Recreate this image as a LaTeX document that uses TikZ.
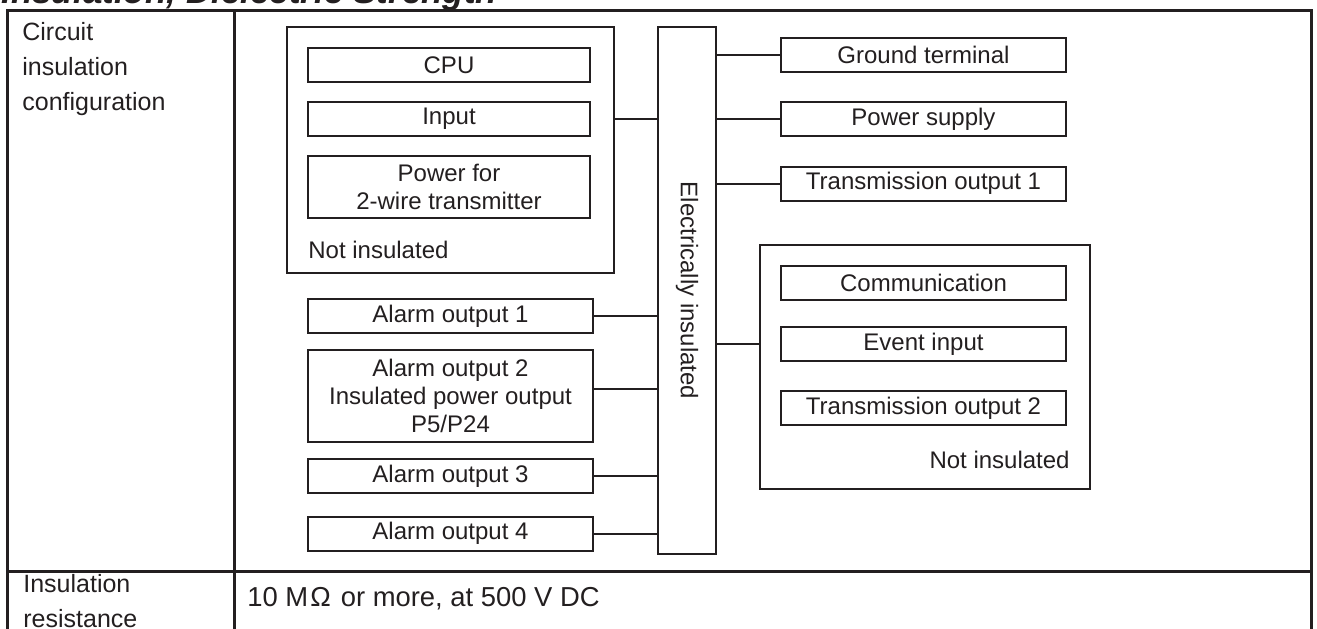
\documentclass[tikz,border=0pt]{standalone}
\usepackage{fontspec}
\setmainfont{Liberation Sans}
\usetikzlibrary{positioning}
\definecolor{ink}{HTML}{231F20}

\begin{document}
\begin{tikzpicture}[x=0.5pt,y=-0.5pt,
  every node/.style={text=ink},
  box/.style={draw=ink, line width=1pt, inner sep=0pt, align=center,
    minimum height=17pt, font=\fontsize{12}{14}\selectfont},
  grp/.style={draw=ink, line width=1pt, inner sep=0pt},
  note/.style={inner sep=0pt, font=\fontsize{12}{14}\selectfont},
  cell/.style={inner sep=0pt, align=left, font=\fontsize{12.5}{17.5}\selectfont},
  wire/.style={draw=ink, line width=1pt},
  rule/.style={draw=ink, line width=1.5pt}]

  % Page area
  \clip (0,0) rectangle (1317,628);

  % Heading, cut off at the top
  \node[anchor=base west, inner sep=0pt,
    font=\fontsize{17.5}{20}\selectfont\bfseries\itshape]
    (head) at (1,3) {Insulation, Dielectric Strength};

  % Table lines
  \draw[rule] (7,640) -- (7,10) -- (1311,10) -- (1311,640);
  \draw[rule] (234,10) -- (234,640);
  \draw[rule] (7,571) -- (1311,571);

  % Row labels
  \node[cell, anchor=north west] (cfg) at (22,22)
    {Circuit\\insulation\\configuration};
  \node[cell, anchor=north west] (res) at (23,574)
    {Insulation\\resistance};
  \node[cell, anchor=base west, font=\fontsize{13.7}{17.5}\selectfont] (resval) at (247,606)
    {10 M\kern1pt Ω\kern5pt or more, at 500 V DC};

  % Not insulated group, left
  \node[grp, minimum width=163.5pt, minimum height=123pt] (cpuside) at (450.5,150) {};
  \node[box, minimum width=141pt] (cpu) at (449,65) {CPU};
  \node[box, minimum width=141pt] (input) at (449,119) {Input};
  \node[box, minimum width=141pt, minimum height=31pt] (txpower) at (449,187)
    {Power for\\2-wire transmitter};
  \node[note, anchor=base west] (leftnote) at (308,258) {Not insulated};

  % Alarm outputs
  \node[box, minimum width=142.5pt] (alarm1) at (450.5,316) {Alarm output 1};
  \node[box, minimum width=142.5pt, minimum height=46pt] (alarm2) at (450.5,396)
    {Alarm output 2\\Insulated power output\\P5/P24};
  \node[box, minimum width=142.5pt] (alarm3) at (450.5,476) {Alarm output 3};
  \node[box, minimum width=142.5pt] (alarm4) at (450.5,533.5) {Alarm output 4};

  % Insulation bar
  \node[grp, minimum width=29pt, minimum height=263.5pt] (bar) at (687,290.5) {};
  \node[note, rotate=-90] (barlabel) at (bar.center) {Electrically insulated};

  % Right side
  \node[box, minimum width=142.5pt] (ground) at (923.5,54.5) {Ground terminal};
  \node[box, minimum width=142.5pt] (supply) at (923.5,119) {Power supply};
  \node[box, minimum width=142.5pt] (retrans1) at (923.5,183.5) {Transmission output 1};

  % Not insulated group, right
  \node[grp, minimum width=165pt, minimum height=122pt] (commside) at (925,367) {};
  \node[box, minimum width=142.5pt] (comm) at (923.5,282.5) {Communication};
  \node[box, minimum width=142.5pt] (event) at (923.5,344) {Event input};
  \node[box, minimum width=142.5pt] (retrans2) at (923.5,408) {Transmission output 2};
  \node[note, anchor=base east] (rightnote) at (1070,468) {Not insulated};

  % Connections to the bar
  \coordinate (a2tap) at ([yshift=3.5pt]alarm2.east);
  \draw[wire] (input -| cpuside.east) -- (input -| bar.west);
  \draw[wire] (alarm1.east) -- (alarm1 -| bar.west);
  \draw[wire] (a2tap) -- (a2tap -| bar.west);
  \draw[wire] (alarm3.east) -- (alarm3 -| bar.west);
  \draw[wire] (alarm4.east) -- (alarm4 -| bar.west);
  \draw[wire] (ground -| bar.east) -- (ground.west);
  \draw[wire] (supply -| bar.east) -- (supply.west);
  \draw[wire] (retrans1 -| bar.east) -- (retrans1.west);
  \draw[wire] (event -| bar.east) -- (event -| commside.west);

\end{tikzpicture}
\end{document}
